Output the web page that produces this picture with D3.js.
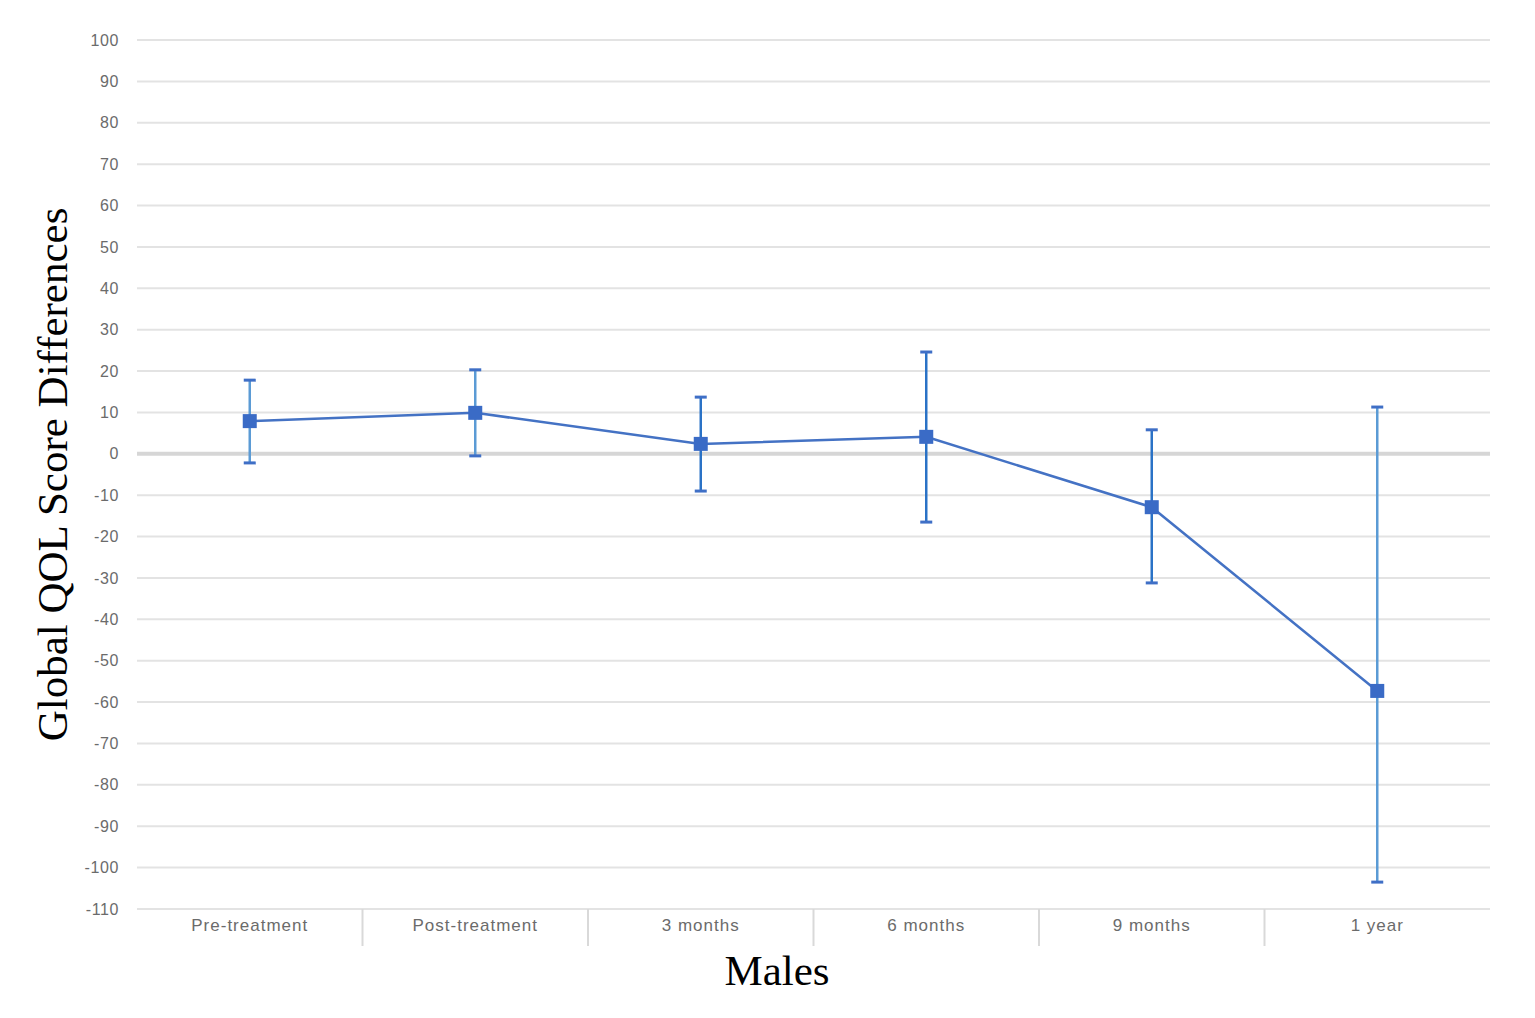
<!DOCTYPE html>
<head>
  <title>Global QOL Score Differences - Males</title>
  <meta charset="utf-8">
  <script src="https://cdn.jsdelivr.net/npm/d3@7"></script>
  <style>
    body { margin: 0; background: #fff; }
  </style>
</head>
<body>
  <div id="chart"></div>
</body>
<script>
  // values
  var categories = ["Pre-treatment", "Post-treatment", "3 months", "6 months", "9 months", "1 year"];
  var means = [7.9, 9.9, 2.4, 4.1, -12.9, -57.3];
  var upper = [17.8, 20.3, 13.7, 24.6, 5.8, 11.3];
  var lower = [-2.2, -0.5, -9.0, -16.5, -31.2, -103.5];
  var yTicks = d3.range(-110, 101, 10);

  var W = 1535, H = 1018;
  var plotLeft = 137, plotRight = 1490, plotTop = 40, plotBottom = 909;

  var svg = d3.select("#chart").append("svg")
    .attr("width", W).attr("height", H);

  var x = d3.scaleBand().domain(categories).range([plotLeft, plotRight]);
  var y = d3.scaleLinear().domain([-110, 100]).range([plotBottom, plotTop]);

  // gridlines
  svg.append("g").selectAll("line")
    .data(yTicks)
    .join("line")
    .attr("x1", plotLeft).attr("x2", plotRight)
    .attr("y1", function(d) { return y(d); })
    .attr("y2", function(d) { return y(d); })
    .attr("stroke", function(d) { return d === 0 ? "#d6d6d6" : "#e3e3e3"; })
    .attr("stroke-width", function(d) { return d === 0 ? 4 : 2; });

  // y tick labels
  svg.append("g").selectAll("text")
    .data(yTicks)
    .join("text")
    .attr("x", 119)
    .attr("y", function(d) { return y(d); })
    .attr("dy", "0.35em")
    .attr("text-anchor", "end")
    .attr("fill", "#6b6b6b")
    .style("font-family", "'Liberation Sans', Arial, sans-serif")
    .style("font-size", "16px")
    .style("letter-spacing", "0.6px")
    .text(function(d) { return d; });

  // category separators below the axis
  svg.append("g").selectAll("line")
    .data(categories.slice(1))
    .join("line")
    .attr("x1", function(d) { return x(d); })
    .attr("x2", function(d) { return x(d); })
    .attr("y1", plotBottom).attr("y2", plotBottom + 37)
    .attr("stroke", "#d9d9d9").attr("stroke-width", 2);

  // category labels
  svg.append("g").selectAll("text")
    .data(categories)
    .join("text")
    .attr("x", function(d) { return x(d) + x.bandwidth() / 2; })
    .attr("y", plotBottom + 16)
    .attr("dy", "0.35em")
    .attr("text-anchor", "middle")
    .attr("fill", "#6b6b6b")
    .style("font-family", "'Liberation Sans', Arial, sans-serif")
    .style("font-size", "17px")
    .style("letter-spacing", "1px")
    .text(function(d) { return d; });

  var pts = categories.map(function(c, i) {
    return { cat: c, mean: means[i], hi: upper[i], lo: lower[i], light: (i < 2 || i === 5) };
  });
  var cx = function(d) { return x(d.cat) + x.bandwidth() / 2; };

  // the line
  svg.append("path")
    .datum(pts)
    .attr("fill", "none")
    .attr("stroke", "#4472c4")
    .attr("stroke-width", 2.5)
    .attr("d", d3.line().x(cx).y(function(d) { return y(d.mean); }));

  // error bars
  var eb = svg.append("g").selectAll("g").data(pts).join("g");
  eb.append("line")
    .attr("x1", cx).attr("x2", cx)
    .attr("y1", function(d) { return y(d.hi); })
    .attr("y2", function(d) { return y(d.lo); })
    .attr("stroke", function(d) { return d.light ? "#5b9bd5" : "#2a72c6"; })
    .attr("stroke-width", 2.5);
  ["hi", "lo"].forEach(function(k) {
    eb.append("line")
      .attr("x1", function(d) { return cx(d) - 6; })
      .attr("x2", function(d) { return cx(d) + 6; })
      .attr("y1", function(d) { return y(d[k]); })
      .attr("y2", function(d) { return y(d[k]); })
      .attr("stroke", "#3f6fc6")
      .attr("stroke-width", 3);
  });

  // markers
  svg.append("g").selectAll("rect")
    .data(pts)
    .join("rect")
    .attr("x", function(d) { return cx(d) - 7; })
    .attr("y", function(d) { return y(d.mean) - 7; })
    .attr("width", 14).attr("height", 14)
    .attr("fill", "#3a6bc6");

  // axis titles
  svg.append("text")
    .attr("transform", "translate(67," + ((plotTop + plotBottom) / 2) + ") rotate(-90)")
    .attr("text-anchor", "middle")
    .style("font-family", "'Liberation Serif', 'Times New Roman', serif")
    .style("font-size", "43px")
    .attr("fill", "#000")
    .text("Global QOL Score Differences");

  svg.append("text")
    .attr("x", 777)
    .attr("y", 985)
    .attr("text-anchor", "middle")
    .style("font-family", "'Liberation Serif', 'Times New Roman', serif")
    .style("font-size", "43px")
    .attr("fill", "#000")
    .text("Males");
</script>
